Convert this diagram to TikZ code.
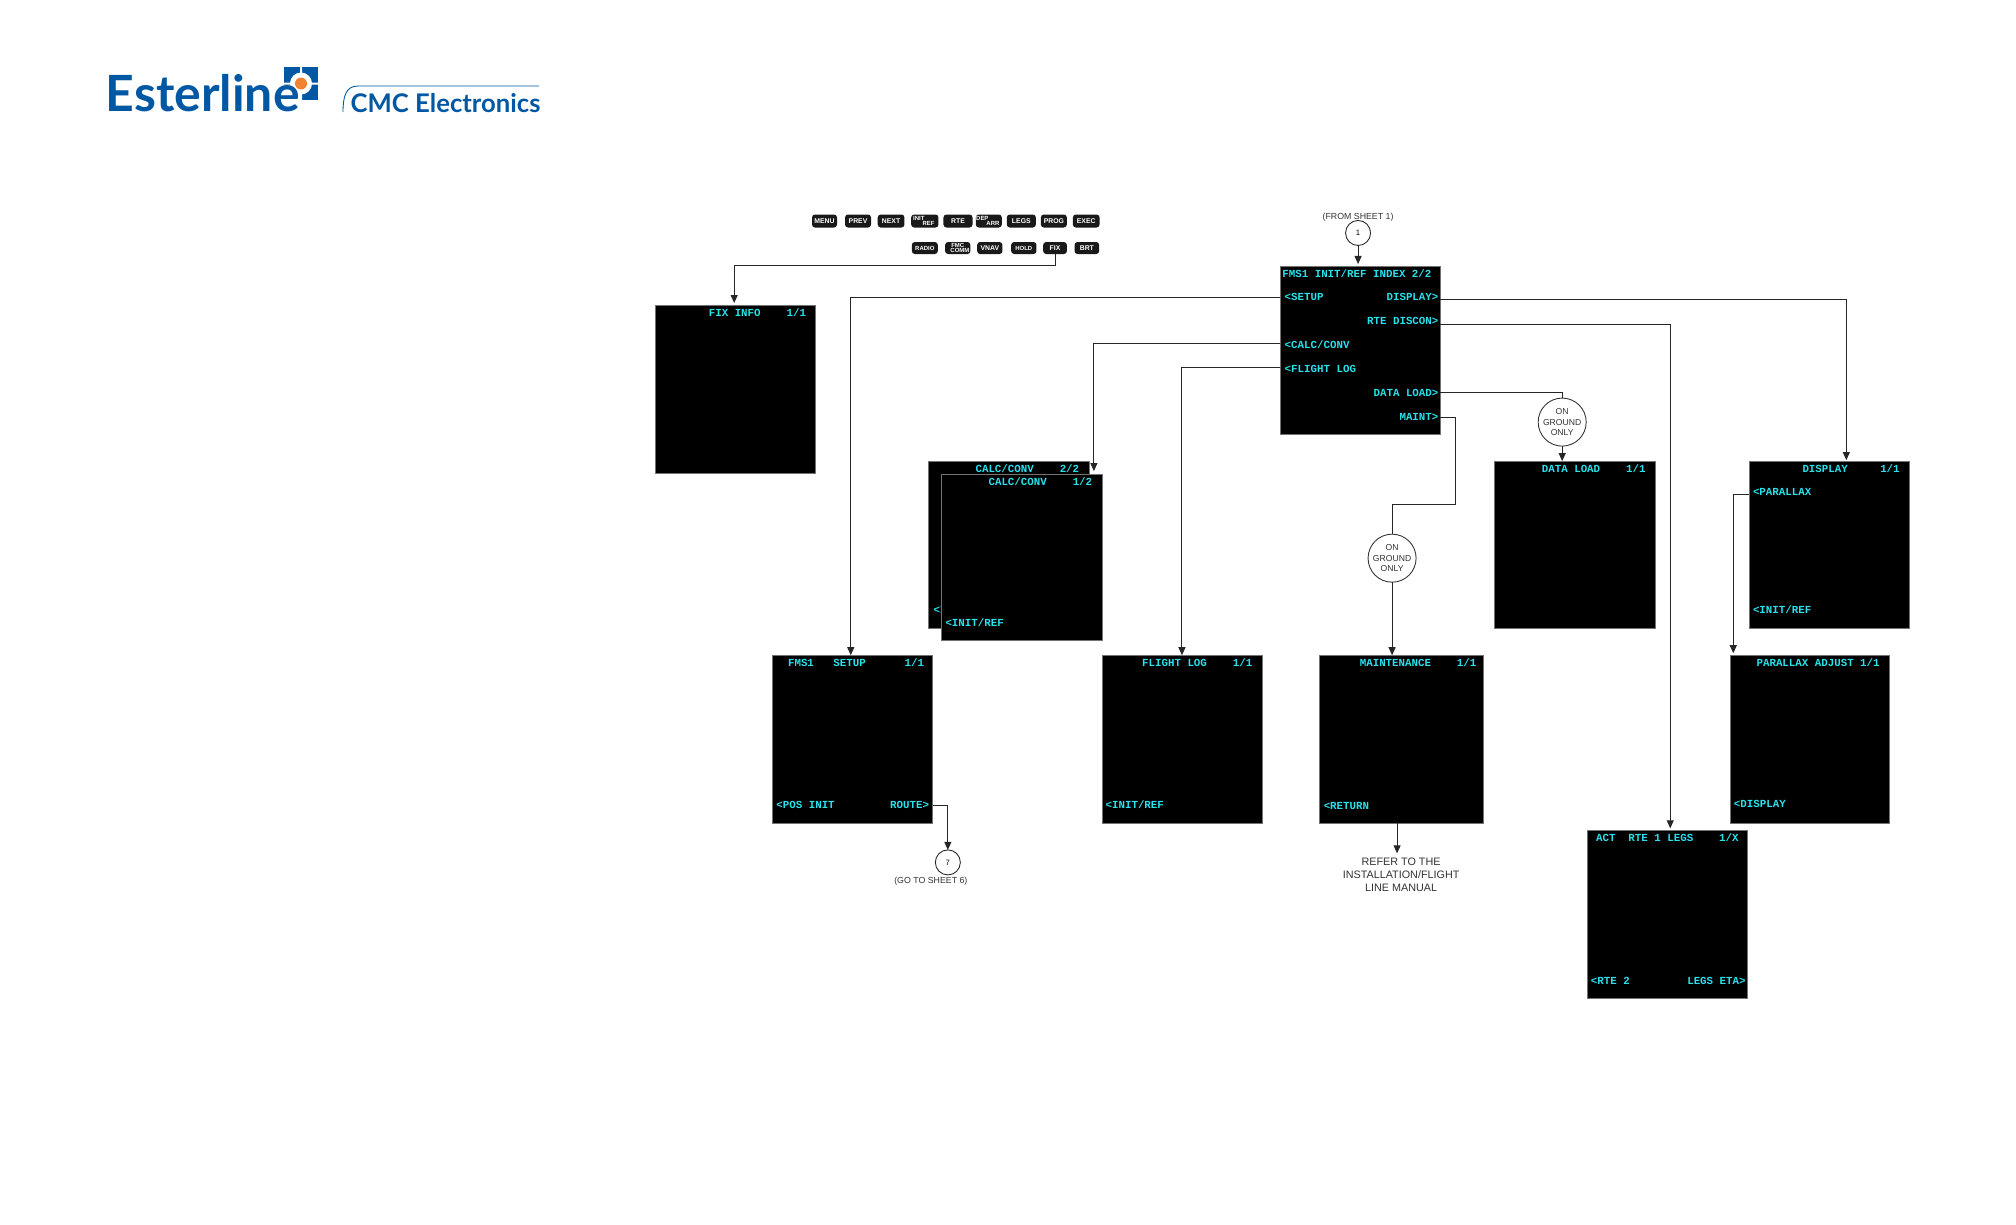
\documentclass[tikz,border=0pt]{standalone}
\usepackage{fontspec}
\setmainfont{Liberation Sans}
\newfontfamily\crtfont{Liberation Mono}
\newfontfamily\logofont{Lato}
\usepackage{xcolor}
\usepackage{tikz}
\usetikzlibrary{positioning, arrows.meta}
\definecolor{crtcyan}{RGB}{40,225,235}
\definecolor{logoblue}{RGB}{0,88,165}
\definecolor{logoorange}{RGB}{240,130,50}

\begin{document}
\begin{tikzpicture}[x=0.01cm, y=-0.01cm,
    screen/.style={draw=black!55, line width=0.2pt, fill=black, minimum width=1.6cm, minimum height=1.68cm,
                inner sep=0pt, outer sep=0pt},
    crtleft/.style={anchor=west, inner sep=0pt, text=crtcyan, text height=2pt, text depth=0pt,
                font=\crtfont\bfseries\fontsize{3.07}{3.7}\selectfont},
    crtright/.style={crtleft, anchor=east},
    keycap/.style={fill=black!90, rounded corners=0.03cm, minimum width=0.26cm, minimum height=0.13cm,
                inner sep=0pt, outer sep=0pt, text=white, align=center,
                font=\bfseries\fontsize{1.95}{1.95}\selectfont},
    smallkey/.style={keycap, font=\bfseries\fontsize{1.7}{1.65}\selectfont},
    badge/.style={draw=black!85, line width=0.25pt, circle, fill=white, minimum size=0.25cm, inner sep=0pt,
                outer sep=0pt, font=\fontsize{2.2}{2.6}\selectfont},
    ground/.style={draw=black!80, line width=0.25pt, circle, fill=white, minimum size=0.48cm, inner sep=0pt,
                outer sep=0pt, align=center, text=black!80, font=\fontsize{2.45}{3}\selectfont},
    note/.style={inner sep=0pt, outer sep=0pt, text=black!80, align=center, font=\fontsize{2.5}{3}\selectfont},
    arr/.style={-{Triangle[length=0.08cm, width=0.07cm]}, line width=0.28pt, draw=black!85}]

  \useasboundingbox (0,0) rectangle (2016,1224);

  % logo
  \fill[logoblue] (284,67) rectangle (318,100);
  \fill[white] (300.2,60) rectangle (302.2,105) (280,82.5) rectangle (322,84.5);
  \fill[white] (284,84.5) rectangle (300.2,101);
  \fill[white] (301,83.5) circle (11);
  \fill[logoorange] (301,83.5) circle (6);
  \node[anchor=base west, inner sep=0pt, text=logoblue, font=\logofont\bfseries\fontsize{14.2}{14.2}\selectfont] (esterline)
        at (105,111) {Esterline};
  \node[anchor=base west, inner sep=0pt, text=logoblue, font=\logofont\bfseries\fontsize{7.3}{7.3}\selectfont] (cmc)
        at (350,112) {CMC Electronics};
  \draw[logoblue, line width=0.25pt] (343,112) .. controls (343,96) and (346,86) .. (358,86) -- (539,86);

  % keys
  \node[keycap, minimum width=0.25cm] (menu) at (824.5,221) {MENU};
  \node[keycap, right=0.08cm of menu] (prev) {PREV};
  \node[keycap, minimum width=0.267cm, right=0.067cm of prev] (next) {NEXT};
  \node[smallkey, minimum width=0.273cm, right=0.067cm of next] (initref) {INIT\phantom{REF}\\\phantom{INI}REF};
  \node[keycap, minimum width=0.29cm, right=0.05cm of initref] (rte) {RTE};
  \node[smallkey, right=0.033cm of rte] (deparr) {DEP\phantom{ARR}\\\phantom{DE}ARR};
  \node[keycap, minimum width=0.29cm, right=0.05cm of deparr] (legs) {LEGS};
  \node[keycap, right=0.05cm of legs] (prog) {PROG};
  \node[keycap, minimum width=0.267cm, right=0.06cm of prog] (exec) {EXEC};
  \node[smallkey, minimum height=0.12cm, below=0.145cm of initref] (radio) {RADIO};
  \node[smallkey, minimum width=0.253cm, minimum height=0.12cm, right=0.073cm of radio] (fmccomm) {FMC\hspace{1.2pt}\\\hspace{1.2pt}COMM};
  \node[keycap, minimum width=0.253cm, minimum height=0.12cm, right=0.067cm of fmccomm] (vnav) {VNAV};
  \node[keycap, font=\bfseries\fontsize{1.7}{1.7}\selectfont, minimum width=0.253cm, minimum height=0.12cm, right=0.087cm of vnav] (hold) {HOLD};
  \node[keycap, minimum width=0.237cm, minimum height=0.12cm, right=0.067cm of hold] (fix) {FIX};
  \node[keycap, minimum width=0.247cm, minimum height=0.12cm, right=0.076cm of fix] (brt) {BRT};

  % screens
  \node[screen, anchor=north west] (index) at (1280,266) {};
  \node[screen, minimum height=1.67cm, below left=0.27cm and 1.91cm of index] (calctwo) {};
  \node[screen, above left=-0.12cm and 1.13cm of calctwo] (fixinfo) {};
  \node[screen, below left=2.21cm and 0.18cm of index] (flightlog) {};
  \node[screen, left=1.69cm of flightlog] (fmssetup) {};
  \node[screen, minimum width=1.64cm, right=0.57cm of flightlog] (maint) {};
  \node[screen, minimum width=1.59cm, right=2.47cm of maint] (paradjust) {};
  \node[screen, minimum width=1.61cm, minimum height=1.67cm, below right=0.27cm and 0.54cm of index] (dataload) {};
  \node[screen, minimum height=1.67cm, right=0.94cm of dataload] (display) {};
  \node[screen, below right=0.07cm and 1.04cm of maint] (rtelegs) {};

  % screen texts
  \node[crtright] (idxtitle) at ([shift={(-8,7.5)}]index.north east) {FMS1~INIT/REF~INDEX~2/2};
  \node[crtleft] (idxsetup) at ([shift={(4,31)}]index.north west) {<SETUP};
  \node[crtleft] (idxcalc) at ([shift={(4,79)}]index.north west) {<CALC/CONV};
  \node[crtleft] (idxflight) at ([shift={(4,103)}]index.north west) {<FLIGHT~LOG};
  \node[crtright] (idxdisplay) at ([shift={(-1,31)}]index.north east) {DISPLAY>};
  \node[crtright] (idxdiscon) at ([shift={(-1,55)}]index.north east) {RTE~DISCON>};
  \node[crtright] (idxload) at ([shift={(-1,127)}]index.north east) {DATA~LOAD>};
  \node[crtright] (idxmaint) at ([shift={(-1,151)}]index.north east) {MAINT>};

  \node[crtright] (fixtitle) at ([shift={(-9,7.5)}]fixinfo.north east) {FIX~INFO~~~~1/1};

  \node[crtright] (calctwotitle) at ([shift={(-9,7.5)}]calctwo.north east) {CALC/CONV~~~~2/2};
  \node[crtleft] (calctworef) at ([shift={(4,149)}]calctwo.north west) {<INIT/REF};
  \node[screen, minimum height=1.66cm, anchor=north west] (calcone) at ([shift={(13,13)}]calctwo.north west) {};
  \node[crtright] (calconetitle) at ([shift={(-9,7.5)}]calcone.north east) {CALC/CONV~~~~1/2};
  \node[crtleft] (calconeref) at ([shift={(3,149)}]calcone.north west) {<INIT/REF};

  \node[crtright] (setuptitle) at ([shift={(-8,7.5)}]fmssetup.north east) {FMS1~~~SETUP~~~~~~1/1};
  \node[crtleft] (setuppos) at ([shift={(3,150)}]fmssetup.north west) {<POS~INIT};
  \node[crtright] (setuproute) at ([shift={(-3,150)}]fmssetup.north east) {ROUTE>};

  \node[crtright] (flighttitle) at ([shift={(-9,7.5)}]flightlog.north east) {FLIGHT~LOG~~~~1/1};
  \node[crtleft] (flightref) at ([shift={(3,150)}]flightlog.north west) {<INIT/REF};

  \node[crtright] (mainttitle) at ([shift={(-6,7.5)}]maint.north east) {MAINTENANCE~~~~1/1};
  \node[crtleft] (maintreturn) at ([shift={(4,151)}]maint.north west) {<RETURN};

  \node[crtright] (loadtitle) at ([shift={(-9,7.5)}]dataload.north east) {DATA~LOAD~~~~1/1};

  \node[crtright] (displaytitle) at ([shift={(-9,7.5)}]display.north east) {DISPLAY~~~~~1/1};
  \node[crtleft] (displaypar) at ([shift={(3,31)}]display.north west) {<PARALLAX};
  \node[crtleft] (displayref) at ([shift={(3,149)}]display.north west) {<INIT/REF};

  \node[crtright] (adjusttitle) at ([shift={(-9,7.5)}]paradjust.north east) {PARALLAX~ADJUST~1/1};
  \node[crtleft] (adjustdisp) at ([shift={(3,149)}]paradjust.north west) {<DISPLAY};

  \node[crtright] (legstitle) at ([shift={(-8,7.5)}]rtelegs.north east) {ACT~~RTE~1~LEGS~~~~1/X};
  \node[crtleft] (legsrte) at ([shift={(3,151)}]rtelegs.north west) {<RTE~2};
  \node[crtright] (legseta) at ([shift={(-1,151)}]rtelegs.north east) {LEGS~ETA>};

  % badges and notes
  \node[badge, above=0.205cm of index.north, xshift=-0.02cm] (badgeone) {1};
  \node[note, above=-0.005cm of badgeone] (fromsheet) {(FROM SHEET 1)};
  \node[badge, below right=0.302cm and 0.062cm of fmssetup] (badgeseven) {7};
  \node[note, below=0.02cm of badgeseven, xshift=-0.17cm] (gotosheet) {(GO TO SHEET 6)};
  \node[ground, above=0.15cm of dataload.north, xshift=-0.125cm] (groundload) {ON\\GROUND\\ONLY};
  \node[ground, above=0.73cm of maint.north, xshift=-0.09cm] (groundmaint) {ON\\GROUND\\ONLY};
  \node[note, font=\fontsize{3.07}{3.7}\selectfont, below=0.35cm of maint] (refer) {REFER TO THE\\INSTALLATION/FLIGHT\\LINE MANUAL};

  % connectors
  \draw[arr] (badgeone) -- ([yshift=0.02cm]badgeone |- index.north);
  \draw[arr] (fix.south) |- ++(0,11) -| ([xshift=-0.015cm, yshift=0.02cm]fixinfo.north);
  \draw[arr] (idxsetup.west -| index.west) -| ([xshift=-0.02cm]fmssetup.north);
  \draw[arr] ([yshift=0.02cm]idxcalc.west -| index.west) -| ([xshift=0.72cm, yshift=0.03cm]calcone.north);
  \draw[arr] ([yshift=0.02cm]idxflight.west -| index.west) -| (flightlog.north);
  \draw[arr] ([yshift=-0.02cm]idxdisplay.east -| index.east) -| ([xshift=0.17cm, yshift=0.01cm]display.north);
  \draw[arr] ([yshift=-0.03cm]idxdiscon.east -| index.east) -| ([xshift=0.03cm, yshift=0.02cm]rtelegs.north);
  \draw[arr, -] ([yshift=0.01cm]idxload.east -| index.east) -| (groundload.north);
  \draw[arr] (groundload.south) -- (groundload.south |- dataload.north);
  \draw[arr, -] (idxmaint.east -| index.east) -- ++(15,0) -- ++(0,87) -| (groundmaint.north);
  \draw[arr] (groundmaint.south) -- (groundmaint.south |- maint.north);
  \draw[arr] ([xshift=-0.04cm]maint.south) -- ([xshift=-0.04cm, yshift=0.05cm]refer.north);
  \draw[arr] (setuproute.east -| fmssetup.east) -| (badgeseven.north);
  \draw[arr] ([yshift=-0.02cm]displaypar.west -| display.west) -| ([xshift=-0.16cm, yshift=0.02cm]display.west |- paradjust.north);
\end{tikzpicture}
\end{document}
